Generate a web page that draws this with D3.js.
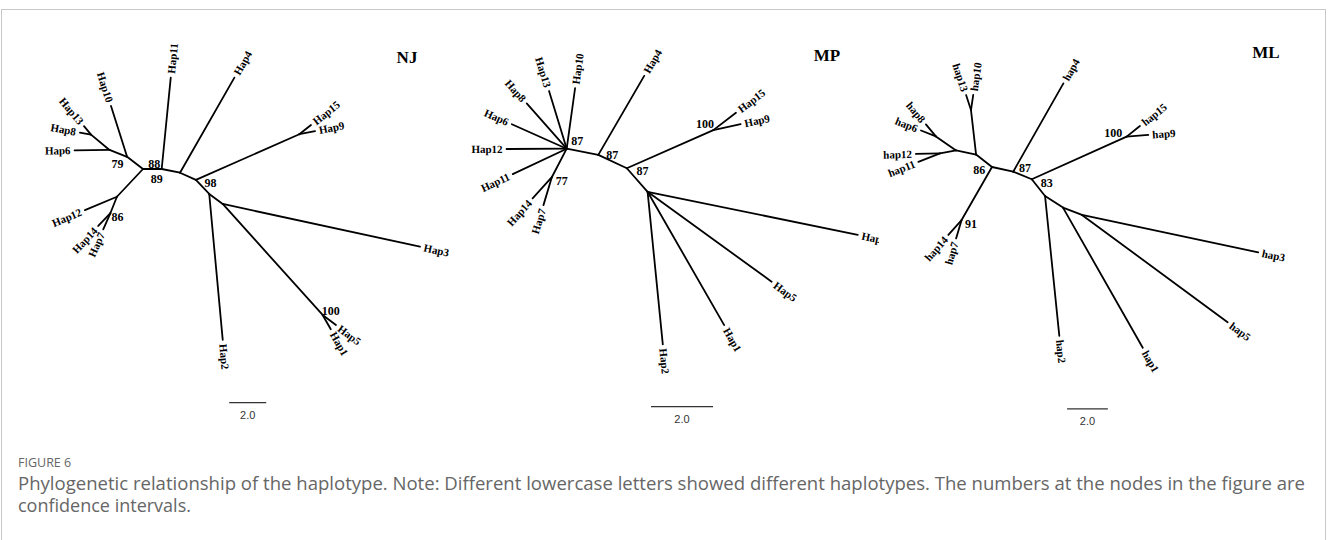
<!DOCTYPE html>
<html>
<head>
<meta charset="utf-8">
<script src="https://cdn.jsdelivr.net/npm/d3@7"></script>
<style>
  html, body { margin: 0; padding: 0; background: #fff; }
  svg { display: block; }
</style>
</head>
<body>
<svg id="fig" width="1328" height="540"></svg>
<script>
// Knoten: [id, parent, x, y] in Baumeinheiten (Skalenbalken = 2.0)
// Blätter = Knoten ohne Kinder, id ist gleichzeitig das Label
const njNodes = [
  ["A", null, 0, 0],
  ["B", "A", 1.01, 0],
  ["Hap11", "B", 1.50, -4.94],
  ["C", "B", 2.00, 0.20],
  ["Hap4", "C", 4.94, -4.94],
  ["D", "C", 2.86, 0.59],
  ["N9", "D", 8.45, -1.88],
  ["Hap15", "N9", 9.08, -2.38],
  ["Hap9", "N9", 9.30, -2.05],
  ["E", "D", 3.58, 1.35],
  ["Hap2", "E", 4.31, 9.24],
  ["F", "E", 4.31, 1.89],
  ["Hap3", "F", 14.97, 4.20],
  ["N100", "F", 9.71, 7.89],
  ["Hap5", "N100", 10.43, 8.43],
  ["Hap1", "N100", 10.15, 8.66],
  ["G", "A", -0.86, -0.66],
  ["Hap10", "G", -1.73, -3.41],
  ["H", "G", -1.81, -1.03],
  ["Hap6", "H", -3.70, -1.01],
  ["I", "H", -2.81, -1.86],
  ["Hap13", "I", -3.19, -2.32],
  ["Hap8", "I", -3.41, -1.97],
  ["J", "A", -1.41, 1.50],
  ["Hap12", "J", -3.14, 2.22],
  ["K", "J", -1.76, 2.38],
  ["Hap14", "K", -2.42, 3.08],
  ["Hap7", "K", -2.15, 3.26]
];
const njSupport = [["B", 88], ["A", 89], ["G", 79], ["D", 98], ["K", 86], ["N100", 100]];
const njScaleBar = [4.66, 12.63, 2.0];

const mpNodes = [
  ["P", null, 0, 0],
  ["Hap10", "P", 0.27, -1.95],
  ["Hap13", "P", -0.57, -1.86],
  ["Hap8", "P", -1.29, -1.46],
  ["Hap6", "P", -1.77, -0.79],
  ["Hap12", "P", -1.94, 0.01],
  ["Hap11", "P", -1.74, 0.82],
  ["Q", "P", -0.48, 0.92],
  ["Hap14", "Q", -1.10, 1.60],
  ["Hap7", "Q", -0.75, 1.82],
  ["R", "P", 1.02, 0.20],
  ["Hap4", "R", 2.50, -2.35],
  ["S", "R", 1.94, 0.63],
  ["N100", "S", 4.73, -0.60],
  ["Hap15", "N100", 5.46, -1.16],
  ["Hap9", "N100", 5.61, -0.79],
  ["T", "S", 2.61, 1.39],
  ["Hap3", "T", 9.39, 2.78],
  ["Hap5", "T", 6.61, 4.29],
  ["Hap1", "T", 5.08, 5.69],
  ["Hap2", "T", 3.10, 6.31]
];
const mpSupport = [["P", 87], ["R", 87], ["S", 87], ["N100", 100], ["Q", 77]];
const mpScaleBar = [2.72, 8.32, 2.0];

const mlNodes = [
  ["U", null, 0, 0],
  ["V", "U", -0.78, -0.61],
  ["W", "V", -1.03, -2.79],
  ["hap13", "W", -1.27, -3.53],
  ["hap10", "W", -0.92, -3.53],
  ["X", "V", -1.76, -0.81],
  ["Y", "X", -2.75, -1.50],
  ["hap8", "Y", -3.24, -2.09],
  ["hap6", "Y", -3.48, -1.79],
  ["Z", "X", -2.55, -0.67],
  ["hap12", "Z", -3.73, -0.64],
  ["hap11", "Z", -3.61, -0.25],
  ["N91", "U", -1.49, 2.60],
  ["hap14", "N91", -2.14, 3.33],
  ["hap7", "N91", -1.76, 3.50],
  ["AA", "U", 1.04, 0.23],
  ["hap4", "AA", 3.50, -4.10],
  ["BB", "AA", 1.95, 0.60],
  ["N100", "BB", 6.60, -1.49],
  ["hap15", "N100", 7.25, -2.01],
  ["hap9", "N100", 7.66, -1.57],
  ["CC", "BB", 2.60, 1.42],
  ["hap2", "CC", 3.30, 8.28],
  ["DD", "CC", 3.48, 1.99],
  ["hap1", "DD", 7.39, 8.86],
  ["EE", "DD", 4.41, 2.35],
  ["hap5", "EE", 11.55, 7.61],
  ["hap3", "EE", 13.05, 4.18]
];
const mlSupport = [["U", 86], ["AA", 87], ["BB", 83], ["N100", 100], ["N91", 91]];
const mlScaleBar = [3.68, 11.86, 2.0];

const captionTitle = "FIGURE 6";
const captionLines = [
  "Phylogenetic relationship of the haplotype. Note: Different lowercase letters showed different haplotypes. The numbers at the nodes in the figure are",
  "confidence intervals."
];

// Layout (Pixel): Ursprung des Baums, Länge von 2.0 Einheiten, Titelposition, Clip
const panels = [
  { title: "NJ", nodes: njNodes, support: njSupport, bar: njScaleBar,
    ox: 143, oy: 169, barPx: 37, titleX: 407, titleY: 63, clipX: 0, clipW: 462,
    offsets: { B: [-7.4, -5.7], A: [13.7, 10], G: [-9.7, 6.6], D: [14.7, 3.3], K: [7, 4], N100: [8, -4.5] } },
  { title: "MP", nodes: mpNodes, support: mpSupport, bar: mpScaleBar,
    ox: 566.7, oy: 148.7, barPx: 62, titleX: 827, titleY: 60.5, clipX: 462, clipW: 417,
    offsets: { P: [10.6, -8], R: [14, 0], S: [15.6, 2.4], N100: [-8.3, -6.7], Q: [10, 3.4] } },
  { title: "ML", nodes: mlNodes, support: mlSupport, bar: mlScaleBar,
    ox: 992, oy: 167, barPx: 40.8, titleX: 1266, titleY: 57.5, clipX: 880, clipW: 446,
    offsets: { U: [-12.7, 2.3], AA: [11.7, -4], BB: [15, 4], N100: [-13.4, -3.4], N91: [9.3, 3.3] } }
];

const svg = d3.select("#fig");
const serif = "'Liberation Serif', 'Times New Roman', serif";

// Rahmen
svg.append("rect")
  .attr("x", 1.5).attr("y", 9.5)
  .attr("width", 1324).attr("height", 560)
  .attr("fill", "none")
  .attr("stroke", "#c8c8c8")
  .attr("stroke-width", 1);

const defs = svg.append("defs");

panels.forEach((p, pi) => {
  defs.append("clipPath").attr("id", "clip" + pi)
    .append("rect")
    .attr("x", p.clipX).attr("y", 10)
    .attr("width", p.clipW).attr("height", 440);

  const g = svg.append("g").attr("clip-path", `url(#clip${pi})`);

  const x = d3.scaleLinear().domain([0, 2]).range([p.ox, p.ox + p.barPx]);
  const y = d3.scaleLinear().domain([0, 2]).range([p.oy, p.oy + p.barPx]);

  const nodes = p.nodes.map(([id, parent, nx, ny]) => ({ id, parent, nx, ny }));
  const byId = new Map(nodes.map(d => [d.id, d]));
  const hasChild = new Set(nodes.filter(d => d.parent).map(d => d.parent));
  const edges = nodes.filter(d => d.parent);

  // Äste
  g.selectAll("line.branch")
    .data(edges)
    .enter()
    .append("line")
      .attr("class", "branch")
      .attr("x1", d => x(byId.get(d.parent).nx))
      .attr("y1", d => y(byId.get(d.parent).ny))
      .attr("x2", d => x(d.nx))
      .attr("y2", d => y(d.ny))
      .attr("stroke", "#000")
      .attr("stroke-width", 1.8)
      .attr("stroke-linecap", "round");

  // Blatt-Labels entlang der Astrichtung
  const tips = edges.filter(d => !hasChild.has(d.id));
  g.selectAll("text.tip")
    .data(tips)
    .enter()
    .append("text")
      .attr("class", "tip")
      .each(function (d) {
        const par = byId.get(d.parent);
        const tx = x(d.nx), ty = y(d.ny);
        const ang = Math.atan2(ty - y(par.ny), tx - x(par.nx)) * 180 / Math.PI;
        const flip = Math.abs(ang) > 90;
        d3.select(this)
          .attr("transform", `translate(${tx},${ty}) rotate(${flip ? ang + 180 : ang})`)
          .attr("x", flip ? -4 : 4)
          .attr("text-anchor", flip ? "end" : "start");
      })
      .attr("dy", "0.35em")
      .attr("font-family", serif)
      .attr("font-weight", "bold")
      .attr("font-size", "11px")
      .attr("fill", "#000")
      .text(d => d.id);

  // Bootstrap-Werte
  g.selectAll("text.support")
    .data(p.support)
    .enter()
    .append("text")
      .attr("class", "support")
      .attr("x", d => x(byId.get(d[0]).nx) + p.offsets[d[0]][0])
      .attr("y", d => y(byId.get(d[0]).ny) + p.offsets[d[0]][1])
      .attr("dy", "0.35em")
      .attr("text-anchor", "middle")
      .attr("font-family", serif)
      .attr("font-weight", "bold")
      .attr("font-size", "12px")
      .attr("fill", "#000")
      .text(d => d[1]);

  // Titel
  g.append("text")
    .attr("x", p.titleX)
    .attr("y", p.titleY)
    .attr("text-anchor", "middle")
    .attr("font-family", serif)
    .attr("font-weight", "bold")
    .attr("font-size", "17px")
    .text(p.title);

  // Skalenbalken
  const [bx, by, blen] = p.bar;
  g.append("line")
    .attr("x1", x(bx)).attr("x2", x(bx + blen))
    .attr("y1", y(by)).attr("y2", y(by))
    .attr("stroke", "#333")
    .attr("stroke-width", 1.2);

  g.append("text")
    .attr("x", (x(bx) + x(bx + blen)) / 2)
    .attr("y", y(by) + 16)
    .attr("text-anchor", "middle")
    .attr("font-family", "'Liberation Sans', Arial, sans-serif")
    .attr("font-size", "11px")
    .attr("fill", "#333")
    .text(blen.toFixed(1));
});

// Bildunterschrift
svg.append("text")
  .attr("x", 18)
  .attr("y", 467)
  .attr("font-family", "'Open Sans', sans-serif")
  .attr("font-size", "12.5px")
  .attr("fill", "#666")
  .text(captionTitle);

svg.selectAll("text.caption")
  .data(captionLines)
  .enter()
  .append("text")
    .attr("class", "caption")
    .attr("x", 18)
    .attr("y", (d, i) => 490 + i * 22)
    .attr("font-family", "'Open Sans', sans-serif")
    .attr("font-size", "18px")
    .attr("fill", "#666")
    .each(function (d, i) {
      if (i === 0) d3.select(this).attr("textLength", 1287).attr("lengthAdjust", "spacingAndGlyphs");
    })
    .text(d => d);
</script>
</body>
</html>
